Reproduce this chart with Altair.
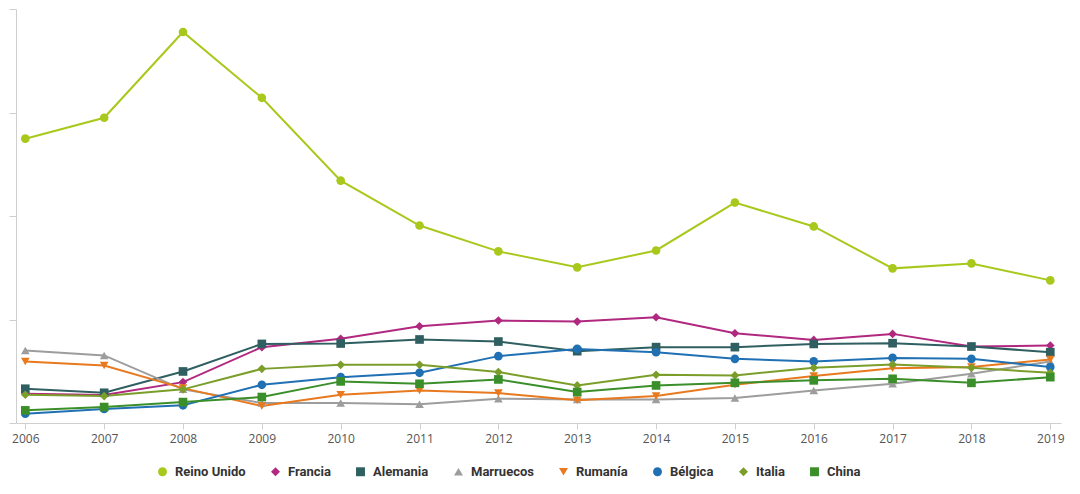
import altair as alt
import pandas as pd

years = list(range(2006, 2020))
countries = ["Reino Unido", "Francia", "Alemania", "Marruecos", "Rumanía", "Bélgica", "Italia", "China"]
colors = ["#a8c81c", "#b0287f", "#2f5f61", "#9d9d9d", "#e8791f", "#2070b4", "#7b9e2a", "#3b8f2a"]
shapes = ["circle", "diamond", "square", "triangle-up", "triangle-down", "circle", "diamond", "square"]

reino_unido = [274.7, 294.9, 377.8, 314.2, 234.2, 190.8, 165.8, 150.4, 166.7, 213.0, 189.9, 149.4, 154.2, 137.8]
francia = [28.2, 27.0, 39.5, 73.3, 81.3, 93.5, 99.0, 98.0, 102.2, 86.7, 80.3, 86.1, 73.9, 74.9]
alemania = [33.1, 29.2, 49.8, 76.4, 76.8, 80.7, 78.7, 69.4, 73.3, 73.3, 76.4, 77.1, 73.9, 68.4]
marruecos = [70.1, 65.3, 32.5, 19.3, 19.3, 18.0, 23.4, 22.8, 22.8, 24.1, 31.5, 37.9, 47.5, 59.5]
rumania = [59.5, 55.6, 33.7, 16.4, 27.3, 31.5, 28.9, 21.9, 26.0, 36.9, 45.3, 53.0, 54.0, 61.4]
belgica = [9.0, 13.5, 17.1, 36.9, 44.3, 48.5, 64.6, 71.6, 68.4, 62.0, 59.5, 62.9, 62.0, 54.0]
italia = [27.3, 26.0, 32.5, 52.3, 56.2, 56.2, 49.2, 36.3, 46.6, 46.0, 53.3, 56.6, 53.3, 48.5]
china = [12.2, 15.4, 20.2, 25.1, 40.2, 37.9, 42.1, 29.9, 36.3, 38.8, 41.2, 42.7, 38.8, 44.3]

series = [reino_unido, francia, alemania, marruecos, rumania, belgica, italia, china]

rows = []
for name, vals in zip(countries, series):
    for y, v in zip(years, vals):
        rows.append({"pais": name, "anio": y, "valor": v})
df = pd.DataFrame(rows)

x = alt.X(
    "anio:Q",
    scale=alt.Scale(domain=[2005.882, 2019.136], nice=False, zero=False),
    axis=alt.Axis(
        values=years, format="d", title=None, grid=False,
        domainColor="#cfcfcf", tickColor="#cfcfcf", tickSize=6,
        labelColor="#555555", labelFontSize=12, labelFont="Open Sans",
        labelPadding=4,
    ),
)
y = alt.Y(
    "valor:Q",
    scale=alt.Scale(domain=[0, 400], nice=False),
    axis=alt.Axis(
        values=[0, 100, 200, 300, 400], labels=False, title=None, grid=False,
        domainColor="#cfcfcf", tickColor="#cfcfcf", tickSize=7,
    ),
)
color = alt.Color(
    "pais:N",
    scale=alt.Scale(domain=countries, range=colors),
    legend=alt.Legend(
        title=None, orient="none", legendX=140, legendY=456,
        direction="horizontal", columns=8, columnPadding=23,
        labelFont="Roboto", labelFontWeight="bold",
        labelFontSize=13, labelColor="#333333", labelOffset=6,
        symbolSize=80, symbolStrokeWidth=0,
    ),
)
shape = alt.Shape(
    "pais:N",
    scale=alt.Scale(domain=countries, range=shapes),
    legend=alt.Legend(title=None),
)

lines = alt.Chart(df).mark_line(strokeWidth=2).encode(
    x=x, y=y, color=color, detail="pais:N"
)
points = alt.Chart(df).mark_point(filled=True, size=75, opacity=1).encode(
    x=x, y=y, color=color, shape=shape
)

chart = alt.layer(lines, points).properties(
    width=1045, height=414,
    padding={"left": 0, "top": 0, "right": 5, "bottom": 5},
).configure_view(stroke=None)

chart.save("out.html", embed_options={"renderer": "svg", "actions": False})
